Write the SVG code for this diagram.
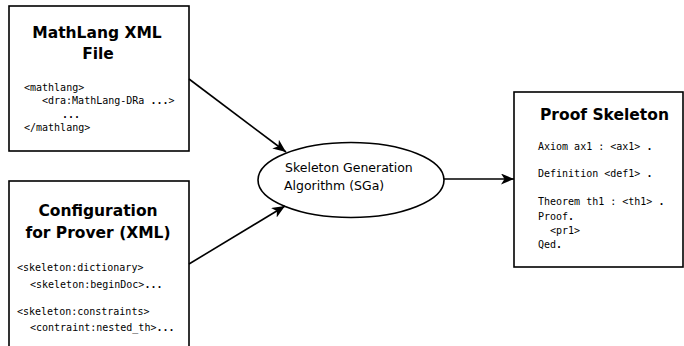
<svg xmlns="http://www.w3.org/2000/svg" width="684" height="346" viewBox="0 0 684 346">
  <style>
    .box { fill: #fff; stroke: #000; stroke-width: 1.6; }
    .title { font-family: "DejaVu Sans", sans-serif; font-weight: bold; font-size: 15.5px; fill: #000; }
    .code { font-family: "DejaVu Sans Mono", monospace; font-size: 10px; fill: #000; }
    .label { font-family: "DejaVu Sans", sans-serif; font-size: 12.5px; fill: #000; }
    .edge { fill: none; stroke: #000; stroke-width: 1.6; marker-end: url(#arrow); }
  </style>
  <defs>
    <marker id="arrow" markerUnits="userSpaceOnUse" markerWidth="14" markerHeight="12" refX="13" refY="5.5" orient="auto">
      <path d="M0,0 L13,5.5 L0,11 L3.5,5.5 z" fill="#000"/>
    </marker>
  </defs>
  <rect width="684" height="346" fill="#fff"/>

  <!-- MathLang source document -->
  <g id="mathlang-xml">
    <rect class="box" x="9" y="6" width="180" height="145"/>
    <text class="title" x="97" y="38" text-anchor="middle">MathLang XML</text>
    <text class="title" x="98" y="59" text-anchor="middle">File</text>
    <text class="code" x="24" y="91">&lt;mathlang&gt;</text>
    <text class="code" x="42" y="104">&lt;dra:MathLang-DRa <tspan font-weight="bold">...</tspan>&gt;</text>
    <text class="code" x="62" y="118" font-weight="bold">...</text>
    <text class="code" x="24" y="131">&lt;/mathlang&gt;</text>
  </g>

  <!-- prover configuration -->
  <g id="prover-config">
    <rect class="box" x="9" y="181" width="180" height="175"/>
    <text class="title" x="98" y="216" text-anchor="middle">Configuration</text>
    <text class="title" x="98" y="238" text-anchor="middle">for Prover (XML)</text>
    <text class="code" x="17" y="271" font-size="10.4">&lt;skeleton:dictionary&gt;</text>
    <text class="code" x="30" y="288" font-size="10.4">&lt;skeleton:beginDoc&gt;<tspan font-weight="bold">...</tspan></text>
    <text class="code" x="17" y="315" font-size="10.4">&lt;skeleton:constraints&gt;</text>
    <text class="code" x="30" y="331" font-size="10.4">&lt;contraint:nested_th&gt;<tspan font-weight="bold">...</tspan></text>
  </g>

  <!-- generation algorithm -->
  <g id="sga">
    <ellipse cx="351" cy="180" rx="93" ry="37.5" fill="#fff" stroke="#000" stroke-width="1.6"/>
    <text class="label" x="285" y="172">Skeleton Generation</text>
    <text class="label" x="284" y="190">Algorithm (SGa)</text>
  </g>

  <!-- generated proof skeleton -->
  <g id="proof-skeleton">
    <rect class="box" x="514" y="92" width="169" height="175"/>
    <text class="title" x="540" y="120">Proof Skeleton</text>
    <text class="code" x="538" y="150">Axiom ax1 : &lt;ax1&gt; <tspan font-weight="bold">.</tspan></text>
    <text class="code" x="538" y="177">Definition &lt;def1&gt; <tspan font-weight="bold">.</tspan></text>
    <text class="code" x="538" y="205">Theorem th1 : &lt;th1&gt; <tspan font-weight="bold">.</tspan></text>
    <text class="code" x="538" y="220">Proof<tspan font-weight="bold">.</tspan></text>
    <text class="code" x="550" y="234">&lt;pr1&gt;</text>
    <text class="code" x="538" y="248">Qed<tspan font-weight="bold">.</tspan></text>
  </g>

  <!-- connectors -->
  <g id="connectors">
    <line class="edge" x1="189" y1="79" x2="286" y2="152"/>
    <line class="edge" x1="189" y1="264" x2="285" y2="206"/>
    <line class="edge" x1="444" y1="179" x2="514" y2="179"/>
  </g>
</svg>
